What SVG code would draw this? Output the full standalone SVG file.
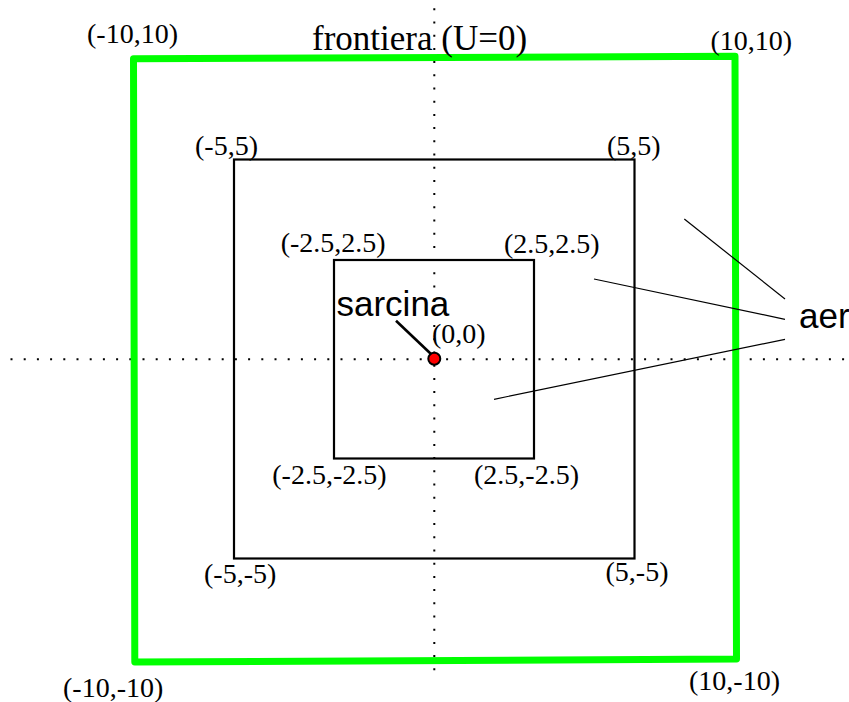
<svg xmlns="http://www.w3.org/2000/svg" width="849" height="702" viewBox="0 0 849 702">
<style>
.lbl{font-family:"Liberation Serif","Times New Roman",serif;font-size:28px;fill:#000}
.title{font-family:"Liberation Serif","Times New Roman",serif;font-size:35px;fill:#000}
.sans{font-family:"Liberation Sans",Arial,sans-serif;font-size:35px;fill:#000}
.sq{fill:none;stroke:#000;stroke-width:2.2}
.dot{fill:none;stroke:#000;stroke-width:2;stroke-dasharray:2 11.2}
.lead{fill:none;stroke:#000;stroke-width:1.2}
</style>
<rect width="849" height="702" fill="#fff"/>
<g id="axes">
<line class="dot" x1="10.5" y1="359.3" x2="849" y2="359.3"/>
<line class="dot" x1="434.3" y1="8.3" x2="434.3" y2="680"/>
</g>
<g id="frontiera">
<polygon points="133.5,58.7 735,56.2 736.5,659 134.8,662" fill="none" stroke="#00ff00" stroke-width="7" stroke-linejoin="round"/>
<text class="title" x="312" y="50">frontiera (U=0)</text>
<text class="lbl" x="87" y="42.7">(-10,10)</text>
<text class="lbl" x="710.5" y="50">(10,10)</text>
<text class="lbl" x="63" y="696.5">(-10,-10)</text>
<text class="lbl" x="689" y="690">(10,-10)</text>
</g>
<g id="square5">
<rect class="sq" x="234" y="159.5" width="400.5" height="399"/>
<text class="lbl" x="195" y="155">(-5,5)</text>
<text class="lbl" x="607" y="155">(5,5)</text>
<text class="lbl" x="204" y="583">(-5,-5)</text>
<text class="lbl" x="605.5" y="581">(5,-5)</text>
</g>
<g id="square25">
<rect class="sq" x="334" y="260" width="200" height="198.5"/>
<text class="lbl" x="280.7" y="252">(-2.5,2.5)</text>
<text class="lbl" x="504" y="253">(2.5,2.5)</text>
<text class="lbl" x="272.3" y="484">(-2.5,-2.5)</text>
<text class="lbl" x="474" y="484">(2.5,-2.5)</text>
</g>
<g id="connectors">
<line x1="396" y1="320.7" x2="431" y2="354" stroke="#000" stroke-width="2.6"/>
<line class="lead" x1="684.3" y1="219" x2="785" y2="299"/>
<line class="lead" x1="594" y1="279" x2="785" y2="319.3"/>
<line class="lead" x1="785" y1="339.3" x2="494" y2="399.3"/>
</g>
<g id="sarcina">
<circle cx="434.3" cy="358.8" r="6" fill="#ff0000" stroke="#000" stroke-width="2"/>
<text class="sans" x="336.5" y="315.7">sarcina</text>
<text class="lbl" x="432" y="343">(0,0)</text>
</g>
<g id="aer">
<text class="sans" x="799" y="328">aer</text>
</g>
</svg>
